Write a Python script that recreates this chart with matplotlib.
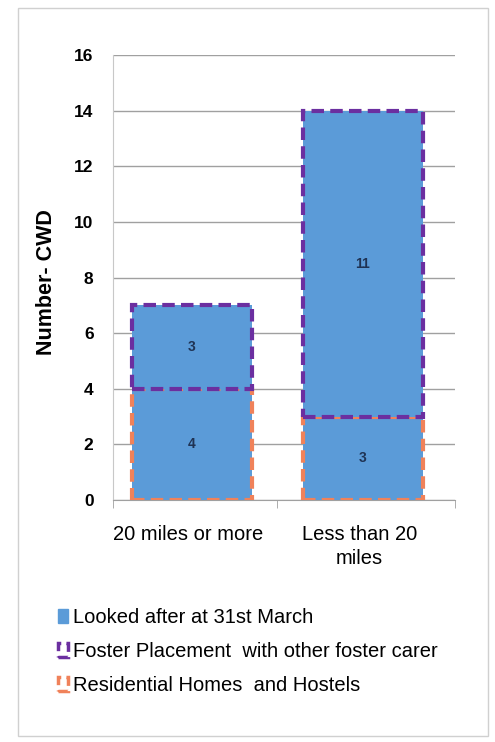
import matplotlib
matplotlib.use("Agg")
import matplotlib.pyplot as plt
from matplotlib.patches import Patch, Rectangle

categories = ["20 miles or more", "Less than 20\nmiles"]
residential = [4, 3]
foster = [3, 11]
series_names = ["Looked after at 31st March",
                "Foster Placement  with other foster carer",
                "Residential Homes  and Hostels"]
yticks = [0, 2, 4, 6, 8, 10, 12, 14, 16]

BLUE = "#5B9BD8"
PURPLE = "#6B2FA0"
ORANGE = "#F0825A"
LABEL = "#1F3354"

plt.rcParams['font.family'] = ['Liberation Sans', 'DejaVu Sans']

fig = plt.figure(figsize=(4.95, 7.42), dpi=100)
fig.patches.append(Rectangle((18/495, 1-736/742), 470/495, 728/742,
                             transform=fig.transFigure, fill=False,
                             edgecolor="#d0d0d0", linewidth=1))
ax = fig.add_axes([113/495, 1-500/742, 342/495, 445/742])

x = list(range(len(categories)))
off = -0.04
xs = [xi + off for xi in x]
w = 0.7
dash = (0, (3, 1.5))
ax.bar(xs, residential, width=w, color=BLUE, edgecolor=ORANGE,
       linewidth=3, linestyle=dash, zorder=3)
ax.bar(xs, foster, width=w, bottom=residential, color=BLUE,
       edgecolor=PURPLE, linewidth=3, linestyle=dash, zorder=3)

for xi, r, f in zip(xs, residential, foster):
    ax.text(xi, r/2, str(r), ha="center", va="center", fontsize=10,
            fontweight="bold", color=LABEL, zorder=4)
    ax.text(xi, r + f/2, str(f), ha="center", va="center", fontsize=10,
            fontweight="bold", color=LABEL, zorder=4)

ax.set_xlim(-0.5, 1.5)
ax.set_ylim(0, 16)
ax.set_yticks(yticks)
ax.set_yticklabels([str(t) for t in yticks], fontsize=12.5, fontweight="bold")
ax.yaxis.grid(True, color="#a0a0a0", linewidth=1, zorder=0)
ax.set_axisbelow(True)
ax.tick_params(axis="y", length=0, pad=14)

ax.set_xticks([xi - 0.02 for xi in xs])
ax.set_xticklabels(categories, fontsize=14.5, linespacing=1.35)
ax.set_xticks([-0.5, 0.46, 1.5], minor=True)
ax.tick_params(axis="x", which="major", length=0, pad=18)
ax.tick_params(axis="x", which="minor", length=6, color="#a0a0a0")

for s in ["top", "right"]:
    ax.spines[s].set_visible(False)
ax.spines["left"].set_color("#c8c8c8")
ax.spines["bottom"].set_color("#a0a0a0")

ax.set_ylabel("Number- CWD", fontsize=15.5, fontweight="bold")
ax.yaxis.set_label_coords(-0.165, 0.49)

handles = [Patch(facecolor=BLUE, edgecolor=BLUE),
           Patch(facecolor="none", edgecolor=PURPLE, linewidth=2.5, linestyle=dash),
           Patch(facecolor="none", edgecolor=ORANGE, linewidth=2.5, linestyle=dash)]
fig.legend(handles, series_names, loc="upper left",
           bbox_to_anchor=(50/495, 1-600/742), frameon=False,
           fontsize=14.5, handlelength=0.5, handleheight=0.65,
           handletextpad=0.25, labelspacing=0.75, borderaxespad=0)

fig.savefig("out.png", dpi=100)
